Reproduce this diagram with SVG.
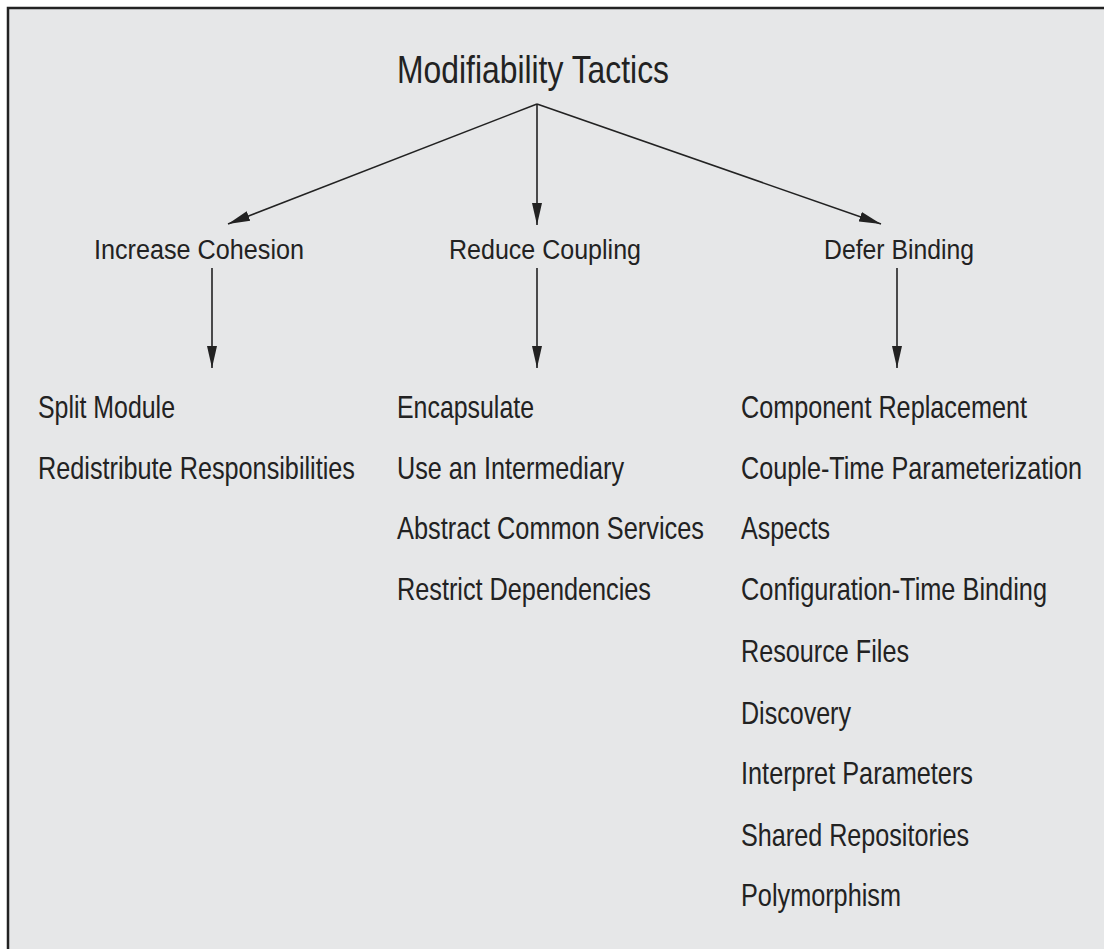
<svg xmlns="http://www.w3.org/2000/svg" width="1104" height="949" viewBox="0 0 1104 949">
<style>
text{font-family:"Liberation Sans",Arial,sans-serif;fill:#222;}
.t{font-size:33px;}
.h{font-size:25px;}
.i{font-size:26px;}
.c{stroke:#222;stroke-width:1.6;fill:none;marker-end:url(#ah);}
</style>
<defs>
<marker id="ah" markerUnits="userSpaceOnUse" markerWidth="22" markerHeight="12" viewBox="0 0 22 12" refX="22" refY="6" orient="auto">
<path d="M0,1 L22,6 L0,11 Z" fill="#222"/>
</marker>
</defs>
<rect x="0" y="0" width="1104" height="949" fill="#ffffff"/>
<rect x="8" y="8" width="1096" height="941" fill="#e6e7e8"/>
<path d="M8,949 L8,8 L1104,8" stroke="#222" stroke-width="2.5" fill="none"/>
<g id="connectors">
<line class="c" x1="537" y1="104" x2="228" y2="224"/>
<line class="c" x1="537" y1="104" x2="537" y2="225"/>
<line class="c" x1="537" y1="104" x2="881" y2="224"/>
<line class="c" x1="212" y1="268" x2="212" y2="368"/>
<line class="c" x1="537" y1="268" x2="537" y2="368"/>
<line class="c" x1="897" y1="268" x2="897" y2="368"/>
</g>
<g id="root"><text class="t" transform="translate(397,83) scale(1,1.15)" textLength="272" lengthAdjust="spacingAndGlyphs">Modifiability Tactics</text></g>
<g id="increase-cohesion"><text class="h" transform="translate(94,259) scale(1,1.12)" textLength="210" lengthAdjust="spacingAndGlyphs">Increase Cohesion</text></g>
<g id="reduce-coupling"><text class="h" transform="translate(449,259) scale(1,1.12)" textLength="192" lengthAdjust="spacingAndGlyphs">Reduce Coupling</text></g>
<g id="defer-binding"><text class="h" transform="translate(824,259) scale(1,1.12)" textLength="150" lengthAdjust="spacingAndGlyphs">Defer Binding</text></g>
<g id="cohesion-list">
<text class="i" transform="translate(38,418) scale(1,1.18)" textLength="137" lengthAdjust="spacingAndGlyphs">Split Module</text>
<text class="i" transform="translate(38,479) scale(1,1.18)" textLength="317" lengthAdjust="spacingAndGlyphs">Redistribute Responsibilities</text>
</g>
<g id="coupling-list">
<text class="i" transform="translate(397,418) scale(1,1.18)" textLength="137" lengthAdjust="spacingAndGlyphs">Encapsulate</text>
<text class="i" transform="translate(397,479) scale(1,1.18)" textLength="227" lengthAdjust="spacingAndGlyphs">Use an Intermediary</text>
<text class="i" transform="translate(397,539) scale(1,1.18)" textLength="307" lengthAdjust="spacingAndGlyphs">Abstract Common Services</text>
<text class="i" transform="translate(397,600) scale(1,1.18)" textLength="254" lengthAdjust="spacingAndGlyphs">Restrict Dependencies</text>
</g>
<g id="binding-list">
<text class="i" transform="translate(741,418) scale(1,1.18)" textLength="286" lengthAdjust="spacingAndGlyphs">Component Replacement</text>
<text class="i" transform="translate(741,479) scale(1,1.18)" textLength="341" lengthAdjust="spacingAndGlyphs">Couple-Time Parameterization</text>
<text class="i" transform="translate(741,539) scale(1,1.18)" textLength="89" lengthAdjust="spacingAndGlyphs">Aspects</text>
<text class="i" transform="translate(741,600) scale(1,1.18)" textLength="306" lengthAdjust="spacingAndGlyphs">Configuration-Time Binding</text>
<text class="i" transform="translate(741,662) scale(1,1.18)" textLength="168" lengthAdjust="spacingAndGlyphs">Resource Files</text>
<text class="i" transform="translate(741,724) scale(1,1.18)" textLength="110" lengthAdjust="spacingAndGlyphs">Discovery</text>
<text class="i" transform="translate(741,784) scale(1,1.18)" textLength="232" lengthAdjust="spacingAndGlyphs">Interpret Parameters</text>
<text class="i" transform="translate(741,846) scale(1,1.18)" textLength="228" lengthAdjust="spacingAndGlyphs">Shared Repositories</text>
<text class="i" transform="translate(741,906) scale(1,1.18)" textLength="160" lengthAdjust="spacingAndGlyphs">Polymorphism</text>
</g>
</svg>
